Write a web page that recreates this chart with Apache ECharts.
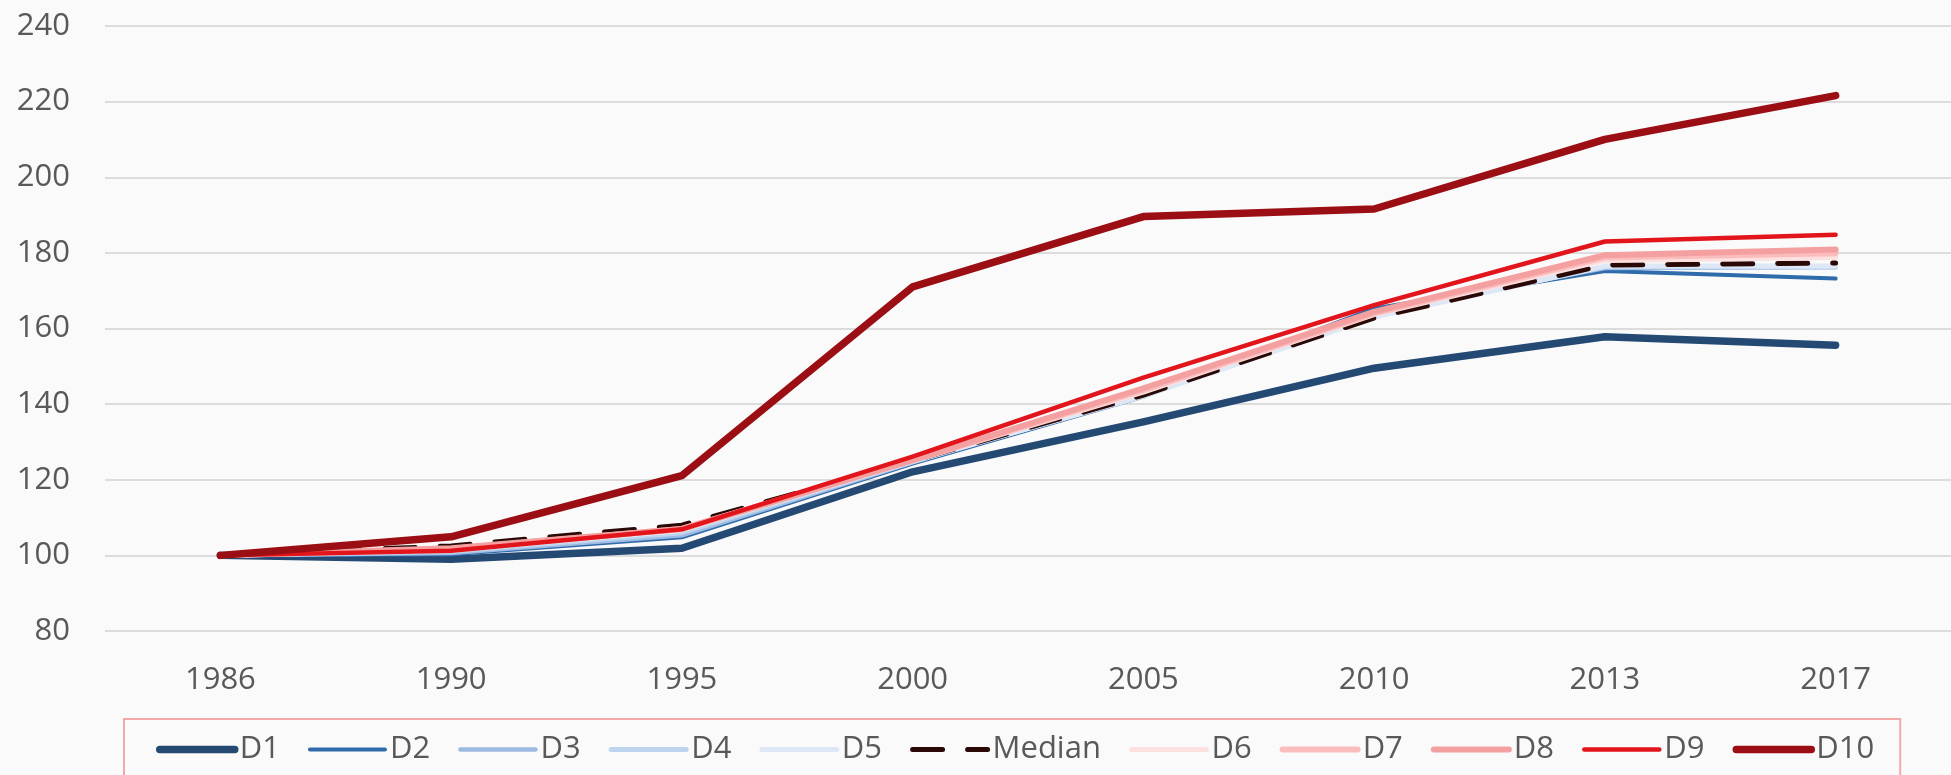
<!DOCTYPE html>
<html>
<head>
<meta charset="utf-8">
<script src="https://cdn.jsdelivr.net/npm/echarts@6/dist/echarts.min.js"></script>
<style>
  html, body { margin: 0; padding: 0; background: #fafafa; }
  #chart { width: 1951px; height: 775px; }
</style>
</head>
<body>
<div id="chart"></div>
<script>
const years = ["1986", "1990", "1995", "2000", "2005", "2010", "2013", "2017"];

const d1 = [100, 99.0, 101.9, 122.1, 135.3, 149.5, 157.8, 155.6];
const d2 = [100, 100.3, 104.8, 124.3, 142.0, 165.3, 175.2, 173.2];
const d3 = [100, 100.6, 105.3, 124.6, 142.5, 164.5, 176.0, 176.2];
const d4 = [100, 101.0, 106.0, 124.8, 142.3, 163.5, 176.3, 176.3];
const d5 = [100, 101.3, 106.6, 124.9, 142.1, 163.0, 176.5, 176.5];
const median = [100, 102.5, 108.0, 125.0, 142.4, 162.8, 176.8, 177.3];
const d6 = [100, 101.5, 106.8, 125.0, 143.2, 163.7, 178.0, 178.8];
const d7 = [100, 101.7, 107.0, 125.1, 143.7, 164.0, 178.8, 179.9];
const d8 = [100, 101.9, 107.0, 125.2, 144.2, 164.4, 179.4, 180.9];
const d9 = [100, 101.2, 106.9, 126.1, 147.0, 166.2, 183.0, 184.8];
const d10 = [100, 104.9, 121.1, 171.0, 189.6, 191.6, 210.0, 221.6];

const yMin = 80, yMax = 240, yStep = 20;

const chart = echarts.init(document.getElementById("chart"));

const mkLine = (name, data, color, width, dashed) => ({
  name: name,
  type: "line",
  data: data,
  symbol: "none",
  lineStyle: {
    color: color,
    width: width,
    type: dashed ? [30, 25] : "solid",
    cap: "round",
    join: "round",
  },
  itemStyle: { color: color },
});

const font = "'Open Sans', 'Noto Sans', sans-serif";

chart.setOption({
  backgroundColor: "#fafafa",
  animation: false,
  grid: { left: 105, top: 26, width: 1867, height: 605 },
  xAxis: {
    type: "category",
    data: years,
    boundaryGap: true,
    axisLine: { show: false },
    axisTick: { show: false },
    axisLabel: { color: "#595959", fontSize: 31, fontFamily: font, margin: 34 },
  },
  yAxis: {
    type: "value",
    min: yMin,
    max: yMax,
    interval: yStep,
    axisLine: { show: false },
    axisTick: { show: false },
    axisLabel: { color: "#595959", fontSize: 31, fontFamily: font, margin: 35 },
    splitLine: { lineStyle: { color: "#dcdcdc", width: 2 } },
  },
  legend: {
    left: 124,
    top: 719,
    padding: [15, 26, 40, 32],
    borderColor: "#f4a9a9",
    borderWidth: 2,
    itemWidth: 75,
    itemHeight: 14,
    itemGap: 28,
    itemStyle: { opacity: 0 },
    lineStyle: { width: "inherit", type: "inherit", cap: "round" },
    textStyle: { color: "#595959", fontSize: 31, fontFamily: font, lineHeight: 31 },
  },
  series: [
    mkLine("D1", d1, "#244a74", 7.5),
    mkLine("D2", d2, "#2f6aab", 4),
    mkLine("D3", d3, "#9dbbe2", 4.5),
    mkLine("D4", d4, "#bdd3ee", 5),
    mkLine("D5", d5, "#dde7f5", 5),
    mkLine("Median", median, "#2a0805", 5, true),
    mkLine("D6", d6, "#fde0e0", 5),
    mkLine("D7", d7, "#fbbcbc", 6),
    mkLine("D8", d8, "#f5a0a0", 6),
    mkLine("D9", d9, "#e3151c", 4.5),
    mkLine("D10", d10, "#9b0e13", 7.5),
  ],
});
</script>
</body>
</html>
